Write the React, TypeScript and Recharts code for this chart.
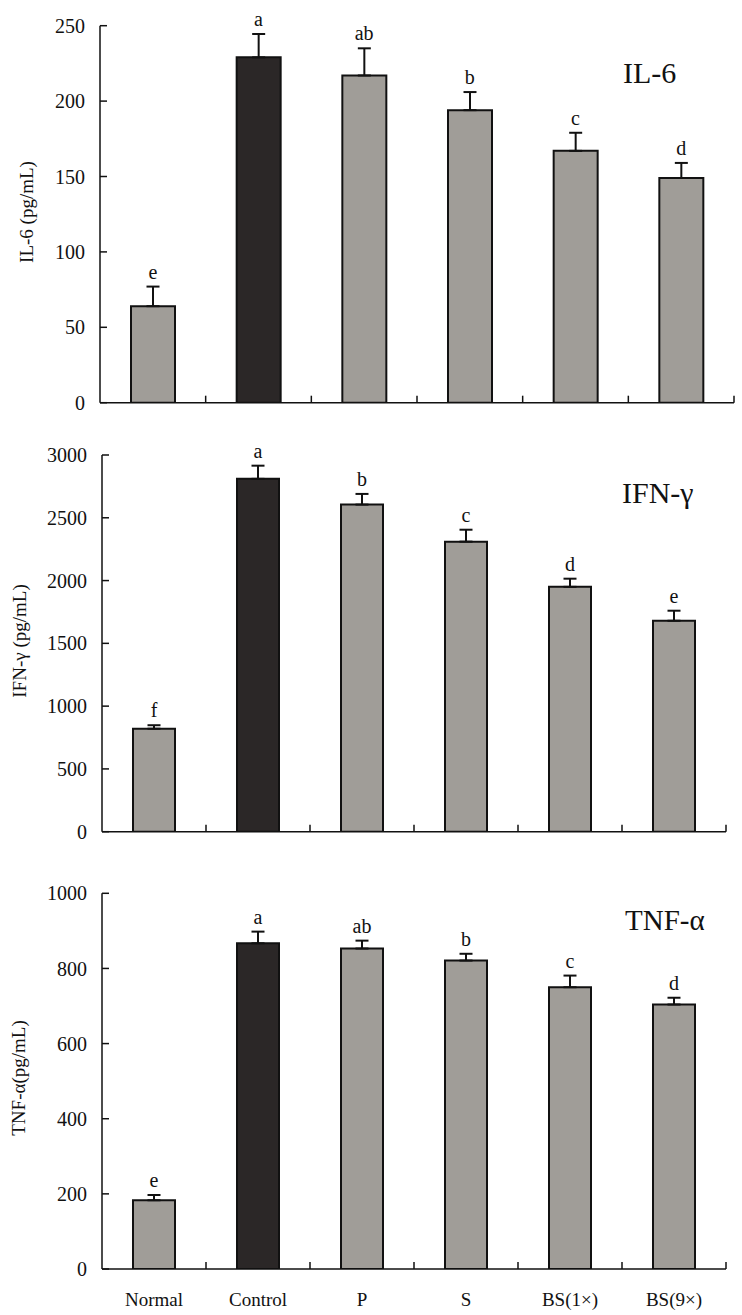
import { Bar, Cell, ComposedChart, ErrorBar, LabelList, Line, XAxis, YAxis } from "recharts"

const groups = ["Normal", "Control", "P", "S", "BS(1×)", "BS(9×)"]

const il6 = [64, 229, 217, 194, 167, 149]
const il6Err = [13, 15.5, 18, 12, 12, 10]
const il6Letters = ["e", "a", "ab", "b", "c", "d"]
const il6Ticks = [0, 50, 100, 150, 200, 250]

const ifn = [820, 2810, 2605, 2310, 1950, 1680]
const ifnErr = [28, 105, 85, 95, 65, 80]
const ifnLetters = ["f", "a", "b", "c", "d", "e"]
const ifnTicks = [0, 500, 1000, 1500, 2000, 2500, 3000]

const tnf = [183, 867, 853, 821, 750, 704]
const tnfErr = [14, 31, 21, 18, 31, 18]
const tnfLetters = ["e", "a", "ab", "b", "c", "d"]
const tnfTicks = [0, 200, 400, 600, 800, 1000]

const gray = "#a09d98"
const dark = "#2b2727"
const ink = "#111"

// x tick: short inward mark on the right edge of each group, label under the centre
function GroupTick(props: any) {
  const { x, y, payload, showLabel } = props
  const edge = x + (payload.offset ?? 0)
  return (
    <g>
      <line x1={edge} x2={edge} y1={y} y2={y - 7} stroke={ink} strokeWidth={1.5} />
      {showLabel && (
        <text x={x} y={y + 37} textAnchor="middle" fontSize={19} fill={ink}>
          {payload.value}
        </text>
      )}
    </g>
  )
}

type PanelProps = {
  top: number
  height: number
  margin: { top: number; right: number; bottom: number; left: number }
  xHeight: number
  yWidth: number
  values: number[]
  errors: number[]
  letters: string[]
  ticks: number[]
  barSize: number
  showLabels?: boolean
}

function Panel({ top, height, margin, xHeight, yWidth, values, errors, letters, ticks, barSize, showLabels }: PanelProps) {
  const data = groups.map((g, i) => ({
    group: g,
    value: values[i],
    err: [0, errors[i]],
    top: values[i] + errors[i],
    letter: letters[i],
  }))
  const line = { stroke: ink, strokeWidth: 1.5 }
  return (
    <div style={{ position: "absolute", left: 0, top }}>
      <ComposedChart width={742} height={height} data={data} margin={margin}>
        <XAxis
          dataKey="group"
          height={xHeight}
          axisLine={line}
          tickLine={false}
          tickSize={0}
          tickMargin={0}
          interval={0}
          tick={(p: any) => <GroupTick {...p} showLabel={showLabels} />}
        />
        <YAxis
          width={yWidth}
          type="number"
          domain={[0, ticks[ticks.length - 1]]}
          ticks={ticks}
          interval={0}
          allowDataOverflow
          tickSize={-7}
          tickMargin={22}
          tick={{ fontSize: 20, fill: ink }}
          axisLine={line}
          tickLine={line}
        />
        <Bar dataKey="value" barSize={barSize} stroke={ink} strokeWidth={2} isAnimationActive={false}>
          {data.map((_, i) => (
            <Cell key={i} fill={i === 1 ? dark : gray} />
          ))}
          <ErrorBar dataKey="err" width={6.5} stroke={ink} strokeWidth={2} direction="y" isAnimationActive={false} />
        </Bar>
        <Line dataKey="top" stroke="none" dot={false} activeDot={false} legendType="none" isAnimationActive={false}>
          <LabelList dataKey="letter" position="top" offset={8} fontSize={20} fill={ink} />
        </Line>
      </ComposedChart>
    </div>
  )
}

function Title({ text, left, top, size }: { text: string; left: number; top: number; size: number }) {
  return (
    <div style={{ position: "absolute", left, top, fontSize: size, lineHeight: 1, whiteSpace: "nowrap" }}>{text}</div>
  )
}

function YLabel({ text, cx, cy }: { text: string; cx: number; cy: number }) {
  return (
    <div
      style={{
        position: "absolute",
        left: cx,
        top: cy,
        fontSize: 19,
        lineHeight: 1,
        whiteSpace: "nowrap",
        transform: "translate(-50%, -50%) rotate(-90deg)",
      }}
    >
      {text}
    </div>
  )
}

export default function App() {
  return (
    <div
      style={{
        position: "absolute",
        left: 0,
        top: 0,
        width: 742,
        height: 1315,
        background: "#fff",
        color: ink,
        fontFamily: '"Liberation Serif", "Times New Roman", serif',
      }}
    >
      <Panel
        top={0}
        height={430}
        margin={{ top: 25.7, right: 8, bottom: 7.3, left: 0 }}
        xHeight={20}
        yWidth={100}
        values={il6}
        errors={il6Err}
        letters={il6Letters}
        ticks={il6Ticks}
        barSize={44}
      />
      <Panel
        top={430}
        height={430}
        margin={{ top: 25, right: 16, bottom: 8.3, left: 0 }}
        xHeight={20}
        yWidth={102}
        values={ifn}
        errors={ifnErr}
        letters={ifnLetters}
        ticks={ifnTicks}
        barSize={42}
      />
      <Panel
        top={860}
        height={455}
        margin={{ top: 33.3, right: 16, bottom: 6, left: 0 }}
        xHeight={40}
        yWidth={102}
        values={tnf}
        errors={tnfErr}
        letters={tnfLetters}
        ticks={tnfTicks}
        barSize={42}
        showLabels
      />
      <Title text="IL-6" left={623} top={58} size={30} />
      <Title text="IFN-γ" left={622} top={477.6} size={30} />
      <Title text="TNF-α" left={625} top={905.7} size={29} />
      <YLabel text="IL-6 (pg/mL)" cx={25.5} cy={211.5} />
      <YLabel text="IFN-γ (pg/mL)" cx={19} cy={641} />
      <YLabel text="TNF-α(pg/mL)" cx={17.5} cy={1077.5} />
    </div>
  )
}
